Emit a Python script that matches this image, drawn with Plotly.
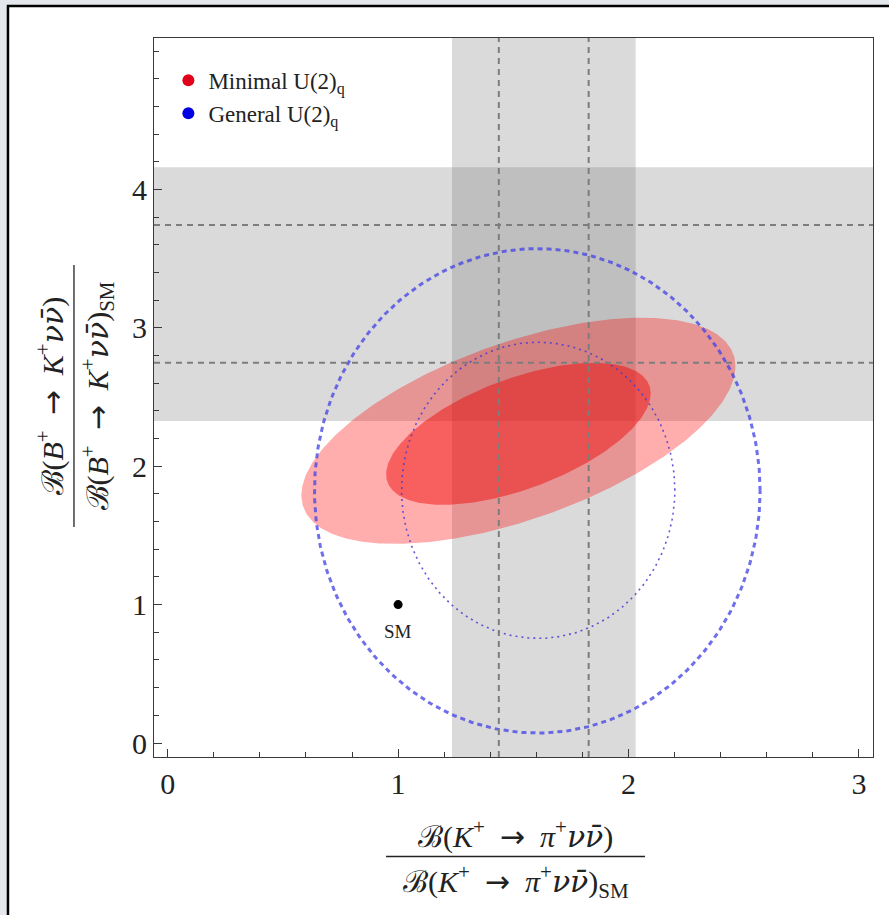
import numpy as np
import plotly.graph_objects as go

# ---------------- data ----------------
# experimental ranges (ratio to SM)
k_band = [1.234, 2.031]        # K+ -> pi+ nu nubar, shaded band
k_lines = [1.437, 1.827]       # dashed lines
b_band = [2.327, 4.160]        # B+ -> K+ nu nubar, shaded band
b_lines = [2.748, 3.743]       # dashed lines

sm_point = [1.0, 1.0]

# contour ellipses: [centre x, centre y, half-width x, half-height y, correlation]
minimal_95 = [1.522, 2.256, 0.942, 0.817, 0.57]
minimal_68 = [1.522, 2.234, 0.574, 0.513, 0.57]
general_95 = [1.604, 1.822, 0.967, 1.750, 0.0]
general_68 = [1.608, 1.826, 0.593, 1.070, 0.0]

x_ticks = [0, 1, 2, 3]
y_ticks = [0, 1, 2, 3, 4]
x_range = [-0.0595, 3.061]
y_range = [-0.101, 5.094]

series_names = ["Minimal U(2)<sub>q</sub>", "General U(2)<sub>q</sub>"]
series_colors = ["#e0001a", "#0000e0"]

SERIF = "Liberation Serif, Times New Roman, serif"


def ellipse(p, n=361):
    cx, cy, hx, hy, rho = p
    t = np.linspace(0, 2 * np.pi, n)
    x = cx + hx * np.cos(t)
    y = cy + hy * (rho * np.cos(t) + np.sqrt(1 - rho ** 2) * np.sin(t))
    return x, y


fig = go.Figure()

# red filled contours
for p, col in [(minimal_95, "rgba(255,0,0,0.32)"), (minimal_68, "rgba(240,0,0,0.45)")]:
    ex, ey = ellipse(p)
    fig.add_trace(go.Scatter(x=ex, y=ey, mode="lines", fill="toself", fillcolor=col,
                             line=dict(width=0), hoverinfo="skip", showlegend=False))

# blue contours
ex, ey = ellipse(general_95)
fig.add_trace(go.Scatter(x=ex, y=ey, mode="lines", hoverinfo="skip", showlegend=False,
                         line=dict(color="rgba(70,70,230,0.78)", width=3, dash="5px,4px")))
ex, ey = ellipse(general_68)
fig.add_trace(go.Scatter(x=ex, y=ey, mode="lines", hoverinfo="skip", showlegend=False,
                         line=dict(color="rgba(70,60,210,0.85)", width=1.6, dash="2px,4px")))

# SM point
fig.add_trace(go.Scatter(x=[sm_point[0]], y=[sm_point[1]], mode="markers",
                         marker=dict(color="black", size=9), showlegend=False))

# legend entries
for i, (name, col) in enumerate(zip(series_names, series_colors)):
    fig.add_trace(go.Scatter(x=[None], y=[None], mode="markers", name=name,
                             legendgroup=f"g{i}",
                             marker=dict(color=col, size=9)))

shapes = []
# white panel with black border
shapes.append(dict(type="rect", xref="paper", yref="paper", x0=-0.2031, x1=1.2,
                   y0=-0.3, y1=1.0445, fillcolor="white",
                   line=dict(color="black", width=2.5), layer="below"))
# bands
band_col = "rgba(128,128,128,0.29)"
shapes.append(dict(type="rect", xref="x", yref="paper", x0=k_band[0], x1=k_band[1],
                   y0=0, y1=1, fillcolor=band_col, line=dict(width=0), layer="below"))
shapes.append(dict(type="rect", xref="paper", yref="y", x0=0, x1=1,
                   y0=b_band[0], y1=b_band[1], fillcolor=band_col, line=dict(width=0),
                   layer="below"))
# dashed lines
for xv in k_lines:
    shapes.append(dict(type="line", xref="x", yref="paper", x0=xv, x1=xv, y0=0, y1=1,
                       line=dict(color="rgb(125,125,125)", width=2, dash="6px,5px"),
                       layer="above"))
for yv in b_lines:
    shapes.append(dict(type="line", xref="paper", yref="y", x0=0, x1=1, y0=yv, y1=yv,
                       line=dict(color="rgb(125,125,125)", width=2, dash="6px,5px"),
                       layer="above"))

# fraction bars of the axis titles
shapes.append(dict(type="line", xref="paper", yref="paper", x0=0.3227, x1=0.6829,
                   y0=-0.1384, y1=-0.1384, line=dict(color="#222", width=1.3)))
shapes.append(dict(type="line", xref="paper", yref="paper", x0=-0.1113, x1=-0.1113,
                   y0=0.3199, y1=0.6843, line=dict(color="#222", width=1.3)))

title_font = dict(family=SERIF, size=30, color="#222")
sp = "\u00a0"
ARROW = f"{sp*2}<span style=\"font-family:'DejaVu Sans'\">→</span>{sp*2}"
NUNU = "<span style=\"font-family:'DejaVu Serif'\"><i>νν̄</i></span>"


def ratio_text(a, b, sm=False):
    s = f"ℬ(<i>{a}</i><sup>+</sup>{ARROW}{b}<sup>+</sup>{NUNU})"
    if sm:
        s += "<sub>SM</sub>"
    return s


annotations = [
    dict(xref="paper", yref="paper", x=0.5028, y=-0.1384, showarrow=False,
         xanchor="center", yanchor="bottom", yshift=1, font=title_font,
         text=ratio_text("K", "<i>π</i>")),
    dict(xref="paper", yref="paper", x=0.5028, y=-0.1384, showarrow=False,
         xanchor="center", yanchor="top", yshift=-1, font=title_font,
         text=ratio_text("K", "<i>π</i>", sm=True)),
    dict(xref="paper", yref="paper", x=-0.1113, y=0.5021, showarrow=False,
         xanchor="right", yanchor="middle", xshift=-1, font=title_font, textangle=-90,
         text=ratio_text("B", "<i>K</i>")),
    dict(xref="paper", yref="paper", x=-0.1113, y=0.5021, showarrow=False,
         xanchor="left", yanchor="middle", xshift=1, font=title_font, textangle=-90,
         text=ratio_text("B", "<i>K</i>", sm=True)),
    dict(x=sm_point[0], y=sm_point[1], xref="x", yref="y", text="SM", showarrow=False,
         yshift=-27, font=dict(family=SERIF, size=19, color="#222")),
]

axis_common = dict(showline=True, mirror=True, linecolor="#3a3a3a", linewidth=1,
                   ticks="inside", ticklen=8, tickwidth=1, tickcolor="#3a3a3a",
                   showgrid=False, zeroline=False, tickmode="array",
                   tickfont=dict(family=SERIF, size=30, color="#222"),
                   minor=dict(tickmode="linear", tick0=0, dtick=0.2, ticks="inside",
                              ticklen=5, tickwidth=1, tickcolor="#3a3a3a",
                              showgrid=False))

fig.update_layout(
    width=889, height=915, autosize=False,
    margin=dict(l=154, r=16, t=38, b=158),
    paper_bgcolor="#e4e8ec", plot_bgcolor="white",
    xaxis=dict(range=x_range, tickvals=x_ticks, **axis_common),
    yaxis=dict(range=y_range, tickvals=y_ticks, **axis_common),
    shapes=shapes, annotations=annotations,
    showlegend=True,
    legend=dict(x=0.02, y=0.971, xanchor="left", yanchor="top",
                bgcolor="rgba(0,0,0,0)", font=dict(family=SERIF, size=23, color="#222"),
                tracegroupgap=0, itemsizing="constant"),
)

fig.write_html("out.html")
